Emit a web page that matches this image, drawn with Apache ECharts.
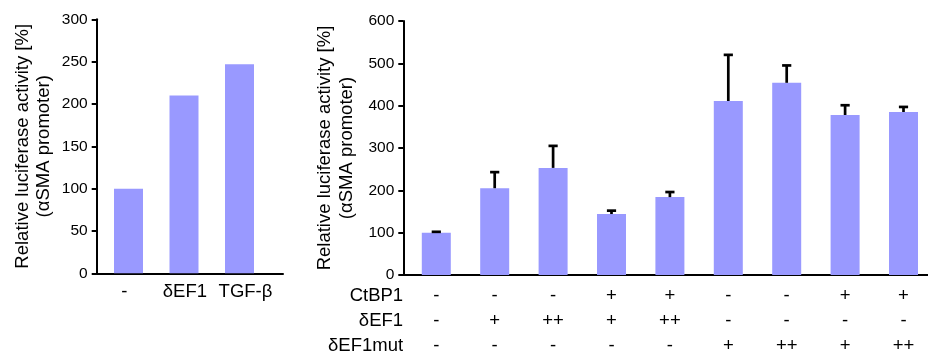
<!DOCTYPE html>
<html>
<head>
<meta charset="utf-8">
<script src="https://cdn.jsdelivr.net/npm/echarts@6/dist/echarts.min.js"></script>
<style>
html,body{margin:0;padding:0;background:#fff;}
#main{width:928px;height:353px;}
</style>
</head>
<body>
<div id="main"></div>
<script>
// ---- data ----
var leftCategories = ['-', 'δEF1', 'TGF-β'];
var leftValues = [100, 210, 247];
var leftTicks = {min: 0, max: 300, interval: 50};

var rowNames = ['CtBP1', 'δEF1', 'δEF1mut'];
var ctbp1Row = ['-', '-', '-', '+', '+', '-', '-', '+', '+'];
var def1Row = ['-', '+', '++', '+', '++', '-', '-', '-', '-'];
var def1mutRow = ['-', '-', '-', '-', '-', '+', '++', '+', '++'];
var rightValues = [100, 205, 253, 144, 184, 411, 454, 378, 385];
var rightErrors = [2, 38, 52, 8, 12, 109, 41, 23, 12];
var rightTicks = {min: 0, max: 600, interval: 100};

var yTitle = 'Relative luciferase activity [%]\n(αSMA promoter)';

// ---- style ----
var FONT = 'Liberation Sans, Arial, sans-serif';
var BAR = '#9999ff';
var BLACK = '#000';

var chart = echarts.init(document.getElementById('main'), null, {renderer: 'canvas'});

function frameX(gi) {
  return {type: 'value', gridIndex: gi, min: 0, max: 1,
    axisLine: {show: true, onZero: false, lineStyle: {color: BLACK, width: 2}},
    axisTick: {show: false}, axisLabel: {show: false}, splitLine: {show: false}};
}
function frameY(gi, t) {
  return {type: 'value', gridIndex: gi, min: t.min, max: t.max, interval: t.interval,
    name: yTitle, nameLocation: 'middle', nameGap: 42,
    nameTextStyle: {fontFamily: FONT, fontSize: 18.5, color: BLACK, lineHeight: 21.5},
    axisLine: {show: true, onZero: false, lineStyle: {color: BLACK, width: 2}},
    axisTick: {show: true, inside: false, length: 5, lineStyle: {color: BLACK, width: 2}},
    axisLabel: {fontFamily: FONT, fontSize: 15.5, color: BLACK, margin: 9},
    splitLine: {show: false}};
}
function hiddenY(gi, t) {
  return {type: 'value', gridIndex: gi, min: t.min, max: t.max, show: false, splitLine: {show: false}};
}
function rowX(gi, data, offset, name, showLabel) {
  var ax = {type: 'category', gridIndex: gi, data: data, position: 'bottom', offset: offset,
    axisLine: {show: false, onZero: false}, axisTick: {show: false}, splitLine: {show: false},
    axisLabel: {show: showLabel !== false, fontFamily: FONT, fontSize: 18.5, color: BLACK, margin: 0,
      verticalAlign: 'middle', interval: 0}};
  if (name) {
    ax.name = name; ax.nameLocation = 'start'; ax.nameGap = 4;
    ax.nameTextStyle = {fontFamily: FONT, fontSize: 18.5, color: BLACK, align: 'right', verticalAlign: 'middle'};
  }
  return ax;
}

var errData = rightValues.map(function (v, i) { return [i, v, v + rightErrors[i]]; });
var G = {outerBoundsMode: 'none', containLabel: false};
function grid(o) { return Object.assign({}, G, o); }

var option = {
  animation: false,
  backgroundColor: '#fff',
  grid: [
    grid({left: 96.7, top: 19.3, width: 186.3, height: 254}),   // left frame
    grid({left: 100.75, top: 19.3, width: 166.5, height: 254}), // left bars
    grid({left: 403.3, top: 21, right: 0, height: 254}),        // right frame
    grid({left: 407.1, top: 21, width: 525.6, height: 254}),    // right bars
    grid({left: 94, top: 19.3, width: 181.8, height: 254})      // left category labels
  ],
  xAxis: [
    frameX(0),
    rowX(1, leftCategories, 0, null, false),
    frameX(2),
    rowX(3, ctbp1Row, 21, rowNames[0]),
    rowX(3, def1Row, 46, rowNames[1]),
    rowX(3, def1mutRow, 71, rowNames[2]),
    rowX(4, leftCategories, 18.5, null)
  ],
  yAxis: [
    frameY(0, leftTicks),
    hiddenY(1, leftTicks),
    frameY(2, rightTicks),
    hiddenY(3, rightTicks),
    hiddenY(4, leftTicks)
  ],
  series: [
    {type: 'bar', xAxisIndex: 1, yAxisIndex: 1, data: leftValues, barWidth: 29,
      itemStyle: {color: BAR}, silent: true},
    {type: 'bar', xAxisIndex: 3, yAxisIndex: 3, data: rightValues, barWidth: 29,
      itemStyle: {color: BAR}, silent: true},
    {type: 'custom', xAxisIndex: 3, yAxisIndex: 3, data: errData, silent: true, z: 5,
      renderItem: function (params, api) {
        var base = api.coord([api.value(0), api.value(1)]);
        var top = api.coord([api.value(0), api.value(2)]);
        var hw = 4.6;
        return {type: 'group', children: [
          {type: 'line', shape: {x1: base[0], y1: base[1], x2: top[0], y2: top[1]},
            style: {stroke: BLACK, lineWidth: 2.7}},
          {type: 'line', shape: {x1: top[0] - hw, y1: top[1], x2: top[0] + hw, y2: top[1]},
            style: {stroke: BLACK, lineWidth: 2.7}}
        ]};
      }}
  ]
};
chart.setOption(option);
</script>
</body>
</html>
